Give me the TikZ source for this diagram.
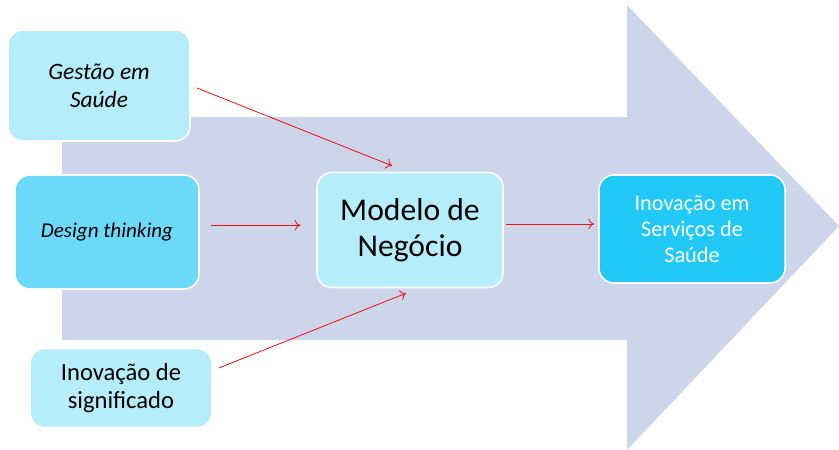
\documentclass[tikz,border=0pt]{standalone}
\usepackage{fontspec}
\setmainfont{Carlito}
\usetikzlibrary{calc,arrows.meta}
\definecolor{arrowbg}{HTML}{CDD5EA}
\definecolor{boxlight}{HTML}{B6EDFB}
\definecolor{boxmid}{HTML}{6BDAF9}
\definecolor{boxstrong}{HTML}{22C9F7}
\definecolor{linkred}{HTML}{F01010}
\tikzset{
  box/.style={draw=white, line width=1.3pt, rounded corners=0.45cm, align=center, inner sep=0pt},
  link/.style={draw=linkred, line width=0.7pt, -{To[length=5pt, width=9pt]}},
}

\begin{document}
\begin{tikzpicture}[x=0.03cm, y=-0.03cm]
		%%%%% START %%%%%
		\useasboundingbox (0, 0) rectangle (839, 450);
		
		\fill[arrowbg] (62, 117) -- (627, 117) -- (627, 5) -- (839, 226) -- (627, 450) -- (627, 340) -- (62, 340) -- cycle;
		
		\node[box, fill=boxlight, minimum width=5.46cm, minimum height=3.33cm,
		  font=\fontsize{20pt}{24pt}\selectfont\itshape] (gestao) at (99, 85.5) {Gestão em\\Saúde};
		\node[box, fill=boxmid, minimum width=5.52cm, minimum height=3.42cm,
		  font=\fontsize{18pt}{21pt}\selectfont\itshape] (design) at (107, 232) {Design thinking};
		\node[box, fill=boxlight, minimum width=5.46cm, minimum height=2.37cm,
		  font=\fontsize{21pt}{24pt}\selectfont] (significado) at (121, 388) {Inovação de\\significado};
		
		\node[box, fill=boxlight, minimum width=5.58cm, minimum height=3.45cm,
		  font=\fontsize{27pt}{31pt}\selectfont] (modelo) at (410, 230) {Modelo de\\Negócio};
		\node[box, fill=boxstrong, text=white, minimum width=5.58cm, minimum height=3.24cm,
		  font=\fontsize{19pt}{22pt}\selectfont] (servicos) at (692, 229) {Inovação em\\Serviços de\\Saúde};
		
		\draw[link, shorten <=6pt] (gestao.east) -- ([xshift=-0.54cm, yshift=0.18cm]modelo.north);
		\draw[link, shorten <=10pt, shorten >=13.5pt] ([yshift=0.2cm]design.east) -- ([yshift=0.2cm]design.east -| modelo.west);
		\draw[link] ([xshift=0.18cm, yshift=0.6cm]significado.east) -- ([xshift=-0.12cm, yshift=-0.15cm]modelo.south);
		\draw[link, shorten <=1.5pt, shorten >=3.5pt] ([yshift=0.18cm]modelo.east) -- ([yshift=0.18cm]modelo.east -| servicos.west);
		
		%%%%% END %%%%%
\end{tikzpicture}
\end{document}
